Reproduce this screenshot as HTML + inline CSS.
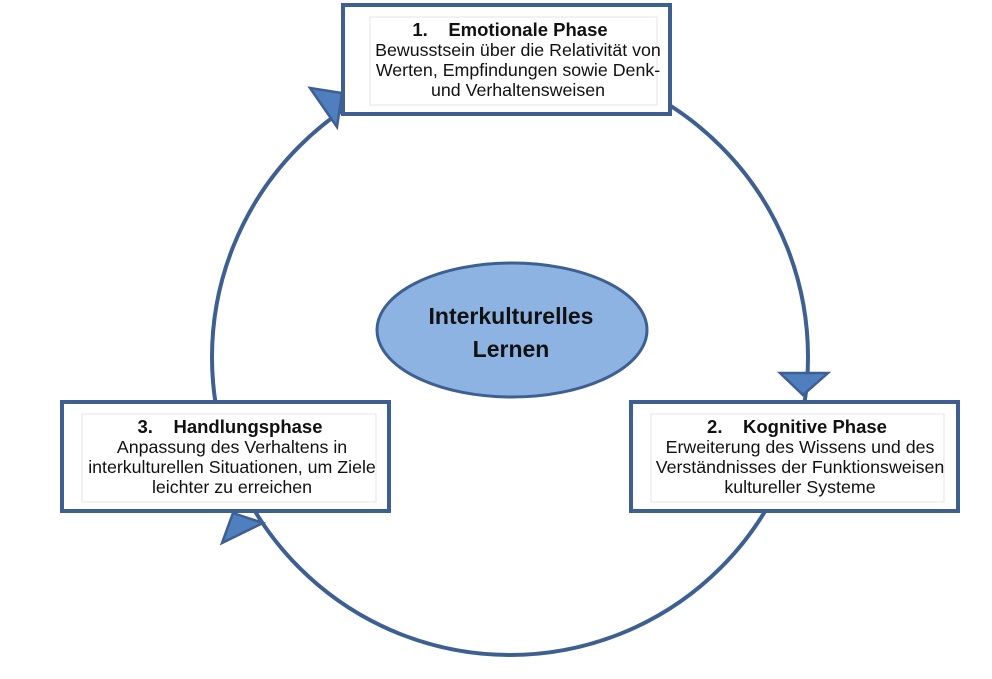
<!DOCTYPE html>
<html><head><meta charset="utf-8"><style>
body{margin:0;background:#fff;}
.t{font-family:"Liberation Sans",sans-serif;fill:#111;text-anchor:middle;}
.h{font-weight:bold;font-size:18.5px;}
.b{font-size:17.8px;}
.e{font-weight:bold;font-size:23px;}
</style></head><body>
<svg width="992" height="674" xmlns="http://www.w3.org/2000/svg">
<circle cx="510" cy="357" r="298" fill="none" stroke="#3d5f92" stroke-width="4"/>
<polygon points="780,373 828,373 803,395" fill="#4f7fbf" stroke="#3d5f92" stroke-width="2.5"/>
<polygon points="233,513 263,523 222,543" fill="#4f7fbf" stroke="#3d5f92" stroke-width="2.5"/>
<polygon points="310,88 342,93 337,127" fill="#4f7fbf" stroke="#3d5f92" stroke-width="2.5"/>
<ellipse cx="512" cy="330" rx="135" ry="67" fill="#8db3e2" stroke="#3d5f92" stroke-width="3"/>
<text class="t e" x="511" y="324">Interkulturelles</text>
<text class="t e" x="511" y="357">Lernen</text>

<rect x="343" y="5" width="327" height="109" fill="#fff" stroke="#3d5f92" stroke-width="4"/>
<rect x="370" y="17" width="287" height="88" fill="none" stroke="#e4e4e4" stroke-width="1"/>
<text class="t h" x="510" y="36" xml:space="preserve">1.    Emotionale Phase</text>
<text class="t b" x="518" y="56">Bewusstsein über die Relativität von</text>
<text class="t b" x="518" y="76">Werten, Empfindungen sowie Denk-</text>
<text class="t b" x="518" y="96">und Verhaltensweisen</text>

<rect x="62" y="402" width="327" height="109" fill="#fff" stroke="#3d5f92" stroke-width="4"/>
<rect x="82" y="414" width="294" height="88" fill="none" stroke="#e4e4e4" stroke-width="1"/>
<text class="t h" x="230" y="433" xml:space="preserve">3.    Handlungsphase</text>
<text class="t b" x="232" y="453">Anpassung des Verhaltens in</text>
<text class="t b" x="232" y="473">interkulturellen Situationen, um Ziele</text>
<text class="t b" x="232" y="493">leichter zu erreichen</text>

<rect x="631" y="402" width="327" height="109" fill="#fff" stroke="#3d5f92" stroke-width="4"/>
<rect x="651" y="414" width="293" height="88" fill="none" stroke="#e4e4e4" stroke-width="1"/>
<text class="t h" x="797" y="433" xml:space="preserve">2.    Kognitive Phase</text>
<text class="t b" x="800" y="453">Erweiterung des Wissens und des</text>
<text class="t b" x="800" y="473">Verständnisses der Funktionsweisen</text>
<text class="t b" x="800" y="493">kultureller Systeme</text>
</svg>
</body></html>
